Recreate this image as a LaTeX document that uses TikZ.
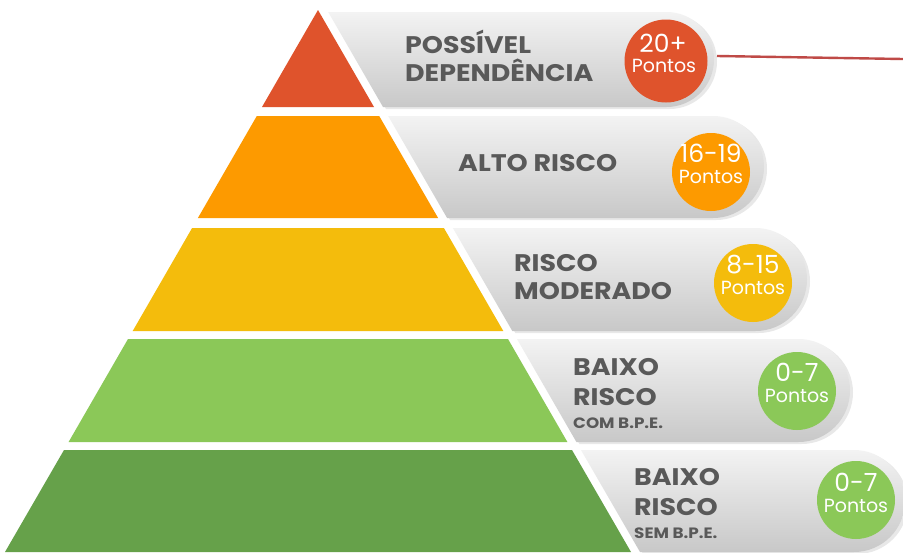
\documentclass[tikz,border=0pt]{standalone}
\usepackage{fontspec}
\setmainfont{Poppins}
\newfontfamily\ttlfont[FakeStretch=1.12]{Poppins}
\usetikzlibrary{shadows}
\definecolor{cA}{HTML}{DF532C}
\definecolor{cB}{HTML}{FD9A00}
\definecolor{cC}{HTML}{F4BC0C}
\definecolor{cD}{HTML}{8BC858}
\definecolor{cE}{HTML}{66A14A}
\definecolor{pillTop}{HTML}{F3F3F3}
\definecolor{pillBot}{HTML}{C8C8C8}
\definecolor{txt}{HTML}{595959}
\definecolor{redline}{HTML}{BF4A47}
\begin{document}
\begin{tikzpicture}[x=1pt,y=-1pt,
  pill/.style={top color=pillTop, bottom color=pillBot, drop shadow={opacity=0.18,shadow xshift=3pt,shadow yshift=-2pt}},
  badge/.style={circle, fill=#1, inner sep=0pt, minimum size=78pt},
  ttl/.style={font=\ttlfont\bfseries\fontsize{24}{28}\selectfont, text=txt, anchor=base west, inner sep=0pt},
  sml/.style={font=\ttlfont\bfseries\fontsize{15}{17}\selectfont, text=txt, anchor=base west, inner sep=0pt},
  num/.style={font=\fontsize{25}{25}\selectfont, text=white, anchor=base, inner sep=0pt, text depth=0pt},
  pts/.style={font=\fontsize{19}{19}\selectfont, text=white, anchor=base, inner sep=0pt, text height=11pt}]
\useasboundingbox (0,0) rectangle (903,552);
\fill[white] (0,0) rectangle (903,552);
% pyramid bands
\fill[cA] (318,10) -- (374,107) -- (262,107) -- cycle;
\fill[cB] (256.8,116) -- (379.2,116) -- (438.1,218) -- (197.9,218) -- cycle;
\fill[cC] (192.1,228) -- (443.9,228) -- (503.3,331) -- (132.7,331) -- cycle;
\fill[cD] (128,339) -- (508,339) -- (567.4,442) -- (68.6,442) -- cycle;
\fill[cE] (64,450) -- (572,450) -- (631,552) -- (5,552) -- cycle;
% pills
\path[pill] (328.2,12) -- (666.5,12) arc[start angle=-90,end angle=90,radius=47.5] -- (383,107) -- cycle;
\path[pill] (388.2,116) -- (713,116) arc[start angle=-90,end angle=90,radius=51] -- (447.1,218) -- cycle;
\path[pill] (452.9,228) -- (755.5,228) arc[start angle=-90,end angle=90,radius=51.5] -- (512.3,331) -- cycle;
\path[pill] (517,339) -- (798.5,339) arc[start angle=-90,end angle=90,radius=51.5] -- (576.4,442) -- cycle;
\path[pill] (581,450) -- (854,450) arc[start angle=-90,end angle=90,radius=51] -- (640,552) -- cycle;
% red connector
\coordinate (p1e) at (717,56);
\coordinate (redend) at (903,59);
\draw[redline, line width=2.4pt] (p1e) -- (redend);
% badges
\node[badge=cA, minimum size=83pt] (b1) at (666,61) {};
\node[badge=cB] (b2) at (711,172) {};
\node[badge=cC] (b3) at (753,283) {};
\node[badge=cD] (b4) at (797,391) {};
\node[badge=cD] (b5) at (856,500) {};
\node[num] (n1) at (663,52) {20+};
\node[pts] (q1) at (664,72) {Pontos};
\node[num] (n2) at (711,162) {16-19};
\node[pts] (q2) at (711,183) {Pontos};
\node[num] (n3) at (753,273) {8-15};
\node[pts] (q3) at (753,294) {Pontos};
\node[num] (n4) at (797,381) {0-7};
\node[pts] (q4) at (797,402) {Pontos};
\node[num] (n5) at (856,491) {0-7};
\node[pts] (q5) at (856,512) {Pontos};
% titles
\node[ttl] (t1a) at (405,53) {POSSÍVEL};
\node[ttl] (t1b) at (405,81) {DEPENDÊNCIA};
\node[ttl] (t2) at (458,171) {ALTO RISCO};
\node[ttl] (t3a) at (514,271) {RISCO};
\node[ttl] (t3b) at (514,299) {MODERADO};
\node[ttl] (t4a) at (573,375) {BAIXO};
\node[ttl] (t4b) at (573,405) {RISCO};
\node[sml] (t4c) at (573,428) {COM B.P.E.};
\node[ttl] (t5a) at (634,485) {BAIXO};
\node[ttl] (t5b) at (634,515) {RISCO};
\node[sml] (t5c) at (634,538) {SEM B.P.E.};
\end{tikzpicture}
\end{document}
